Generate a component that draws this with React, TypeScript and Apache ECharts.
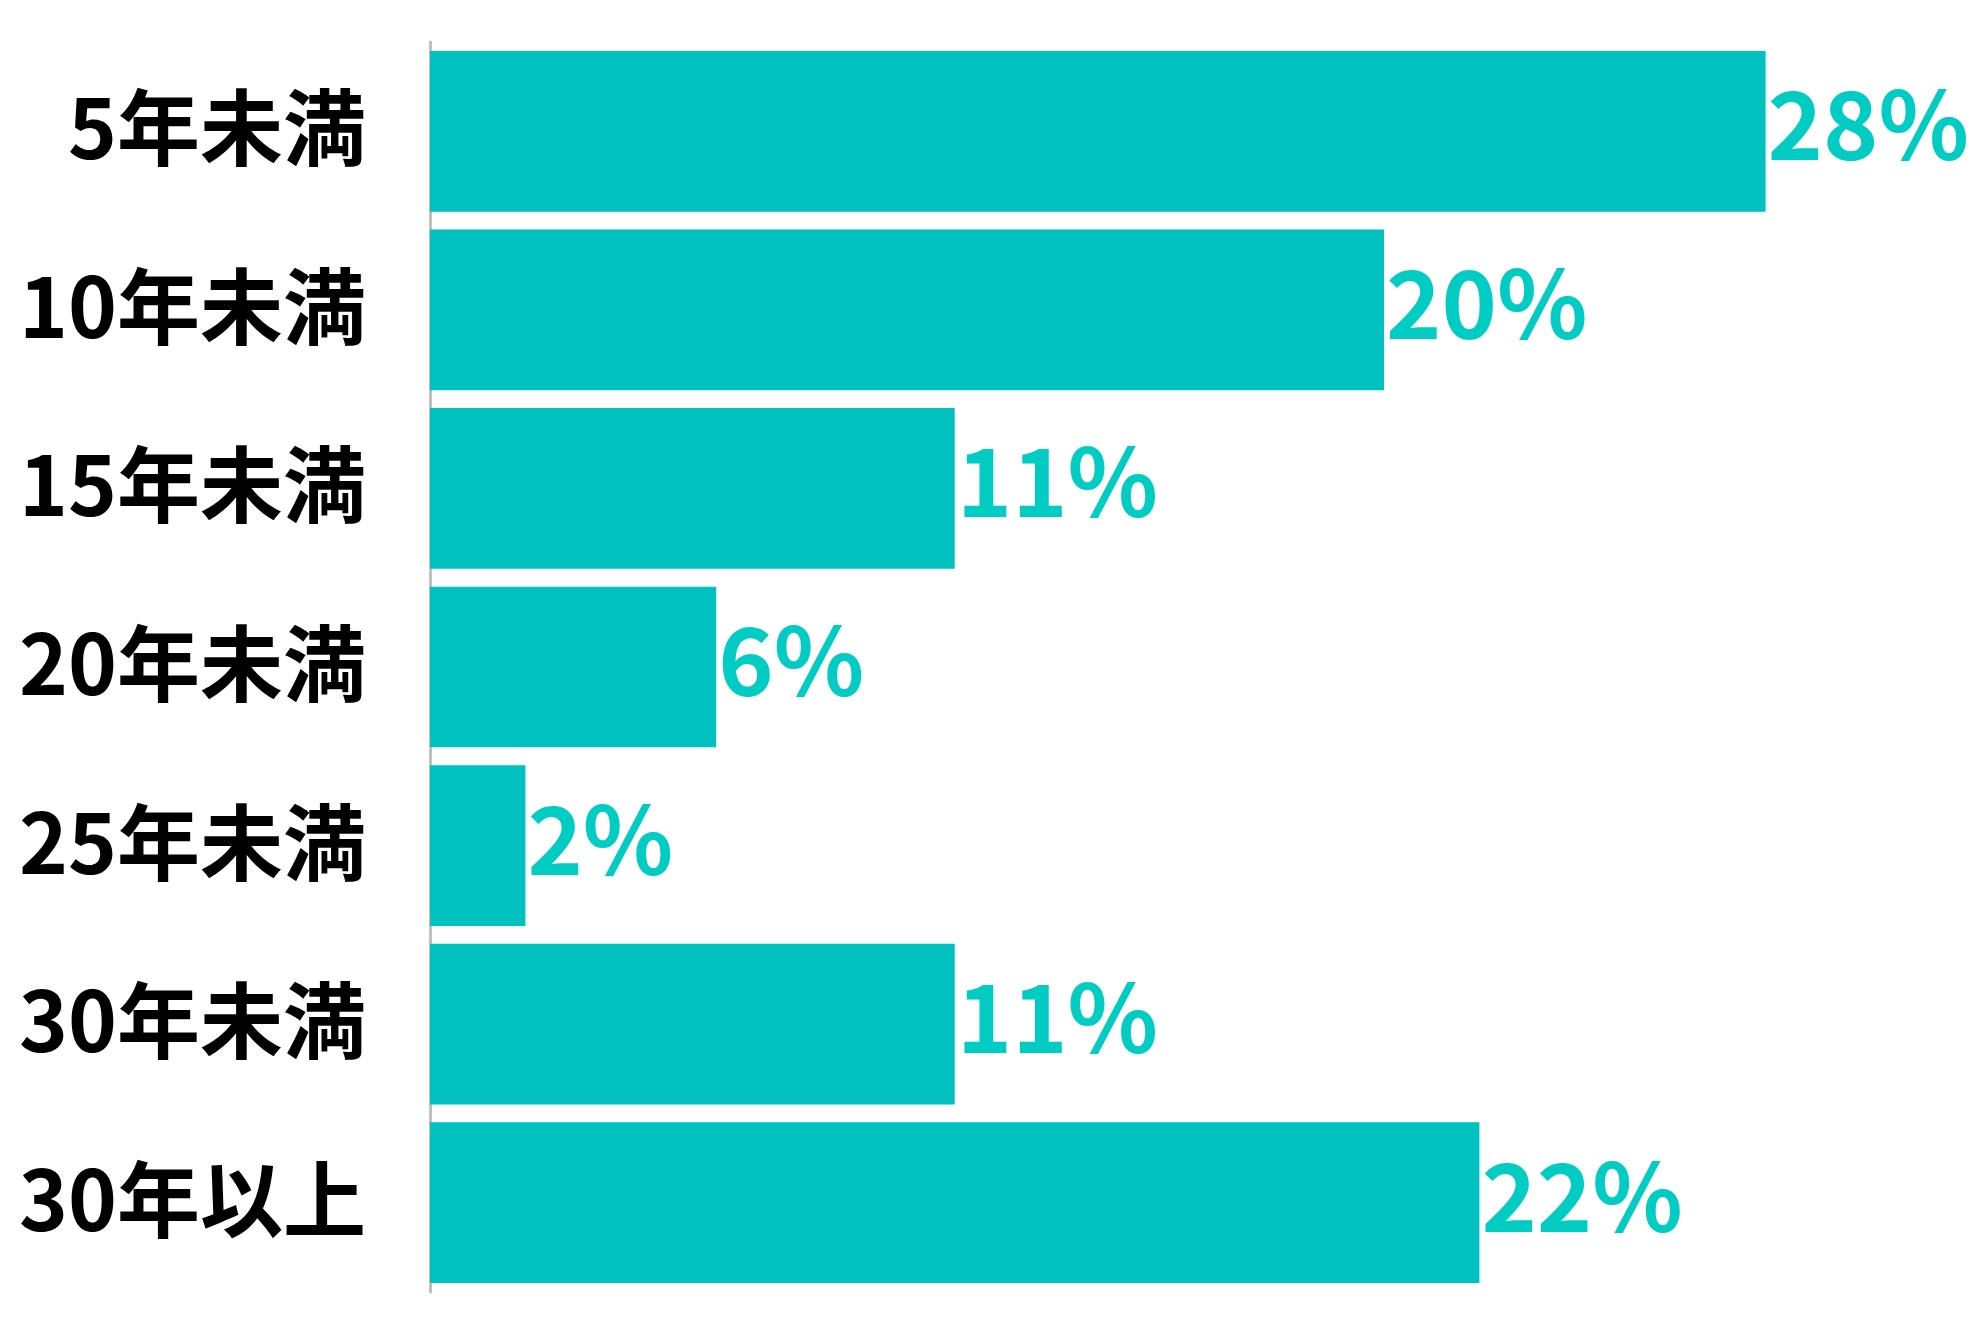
import React, { useEffect, useRef } from 'react';
import * as echarts from 'echarts';

const categories = ['5年未満', '10年未満', '15年未満', '20年未満', '25年未満', '30年未満', '30年以上'];
const shares = [28, 20, 11, 6, 2, 11, 22];

const BAR_COLOR = '#00C0C0';
const LABEL_COLOR = '#00CCC4';
const FONT = '"Noto Sans CJK JP", "Noto Sans", sans-serif';

const App: React.FC = () => {
  const chartRef = useRef<HTMLDivElement>(null);

  useEffect(() => {
    document.body.style.margin = '0';
    if (!chartRef.current) return;
    const chart = echarts.init(chartRef.current, undefined, { renderer: 'svg' });

    chart.setOption({
      animation: false,
      backgroundColor: '#fff',
      grid: { left: 430, right: 111, top: 42, bottom: 38, containLabel: false },
      xAxis: {
        type: 'value',
        min: 0,
        max: 30,
        show: false,
      },
      yAxis: {
        type: 'category',
        inverse: true,
        data: categories,
        axisLine: { show: true, lineStyle: { color: '#c0c0c0', width: 3 } },
        axisTick: { show: false },
        axisLabel: {
          margin: 64,
          formatter: '{c|{value}}',
          rich: {
            c: {
              color: '#000',
              fontFamily: FONT,
              fontWeight: 'bold',
              fontSize: 83,
              padding: [0, 0, 16, 0],
            },
          },
        },
      },
      series: [
        {
          type: 'bar',
          data: shares,
          barCategoryGap: '10%',
          itemStyle: { color: BAR_COLOR },
          label: {
            show: true,
            position: 'right',
            distance: 2,
            offset: [0, -12],
            formatter: '{c}%',
            color: LABEL_COLOR,
            fontFamily: FONT,
            fontWeight: 'bold',
            fontSize: 94,
          },
        },
      ],
    });

    return () => chart.dispose();
  }, []);

  return <div ref={chartRef} style={{ width: 1972, height: 1330 }} />;
};

export default App;
